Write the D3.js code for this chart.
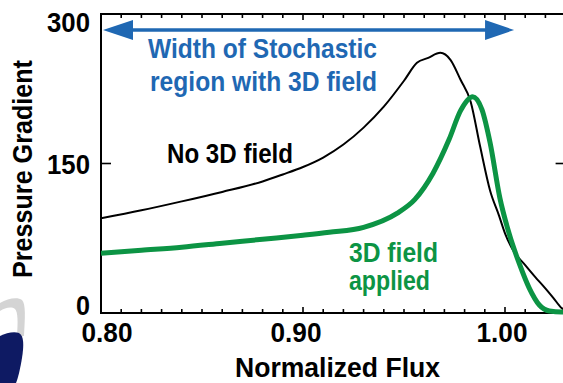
<!DOCTYPE html>
<html>
<head>
<meta charset="utf-8">
<script src="https://cdn.jsdelivr.net/npm/d3@7"></script>
<style>
html,body{margin:0;padding:0;background:#fff;overflow:hidden;}
svg{display:block;}
text{font-family:"Liberation Sans",Arial,Helvetica,sans-serif;font-weight:bold;}
</style>
</head>
<body>
<svg id="chart" width="563" height="383"></svg>
<script>
// ---- data ----
const noFieldFlux = [0.800,0.820,0.840,0.860,0.880,0.890,0.900,0.910,0.920,0.930,0.940,0.950,0.9564,0.962,0.968,0.973,0.978,0.983,0.9877,0.9926,0.997,1.000,1.004,1.010,1.015,1.019,1.024,1.028,1.031];
const noFieldGrad = [95,103,112,121.5,132,139,146.5,156,169,186,207,233,251,256,261,254,234,212,167,123,98,80,63,48,36,27,15,5,2];
const appliedFlux = [0.800,0.820,0.840,0.860,0.880,0.900,0.913,0.930,0.9465,0.9554,0.9643,0.9723,0.978,0.984,0.9886,0.9926,0.9975,1.002,1.007,1.012,1.017,1.022,1.028,1.031];
const appliedGrad = [60,63,66,70,74,78,81,86,100,114,140,174,203,217,204,171,115,80,50,25,8,2,1,1];
const xTickLabels = [0.80,0.90,1.00];
const yTickLabels = [0,150,300];
const stochasticRegion = [0.801,1.0045];

// ---- layout ----
const svg = d3.select("#chart");
const x = d3.scaleLinear().domain([0.80,1.03]).range([101,565.6]);
const y = d3.scaleLinear().domain([0,300]).range([313,14]);
const blue = "#1f68b3", green = "#0c9444";

const noField = noFieldFlux.map((f,i)=>({f, g:noFieldGrad[i]}));
const applied = appliedFlux.map((f,i)=>({f, g:appliedGrad[i]}));

// frame
const frame = svg.append("g").attr("stroke","#000").attr("stroke-width",2);
frame.append("line").attr("x1",x(0.80)).attr("x2",x(0.80)).attr("y1",y(300)-1).attr("y2",y(0)+1);
frame.append("line").attr("x1",x(0.80)-1).attr("x2",x(1.03)).attr("y1",y(0)).attr("y2",y(0));
frame.append("line").attr("x1",x(0.80)-1).attr("x2",x(1.03)).attr("y1",y(300)).attr("y2",y(300));
frame.append("line").attr("x1",x(1.03)).attr("x2",x(1.03)).attr("y1",y(300)).attr("y2",y(0));

// minor ticks every 0.01 on top and bottom
const minor = d3.range(0,24).map(i=>+(0.80+i*0.01).toFixed(2)).filter(v=>v>0.8);
const tk = svg.append("g").attr("stroke","#000").attr("stroke-width",1.6);
minor.forEach(v=>{
  const major = Math.abs(v*10-Math.round(v*10))<1e-6;
  const len = major?6:4;
  tk.append("line").attr("x1",x(v)).attr("x2",x(v)).attr("y1",y(0)).attr("y2",y(0)-len);
  tk.append("line").attr("x1",x(v)).attr("x2",x(v)).attr("y1",y(300)).attr("y2",y(300)+len);
});
// y ticks at 150 (inside, left and right)
tk.append("line").attr("x1",x(0.80)).attr("x2",x(0.80)+10).attr("y1",y(150)).attr("y2",y(150));
tk.append("line").attr("x1",x(1.03)).attr("x2",x(1.03)-10).attr("y1",y(150)).attr("y2",y(150));

// tick labels
const xDx = {"0.8":6,"0.9":-7,"1":-3};
svg.append("g").selectAll("text").data(xTickLabels).join("text")
  .attr("x",d=>x(d)+(xDx[String(d)]||0)).attr("y",342)
  .attr("text-anchor","middle").attr("font-size",28)
  .attr("textLength",51).attr("lengthAdjust","spacingAndGlyphs")
  .text(d=>d.toFixed(2));
const yDy = {"0":2,"150":10,"300":18};
svg.append("g").selectAll("text").data(yTickLabels).join("text")
  .attr("x",90).attr("y",d=>y(d)+(yDy[String(d)]||0))
  .attr("text-anchor","end").attr("font-size",28)
  .attr("textLength",d=>d===0?14:43).attr("lengthAdjust","spacingAndGlyphs")
  .text(d=>String(d));

// axis titles
svg.append("text").attr("x",235).attr("y",377).attr("font-size",28)
  .attr("textLength",205).attr("lengthAdjust","spacingAndGlyphs").text("Normalized Flux");
svg.append("text").attr("transform","translate(32,278) rotate(-90)").attr("font-size",28)
  .attr("textLength",218).attr("lengthAdjust","spacingAndGlyphs").text("Pressure Gradient");

// curves
const line = d3.line().x(d=>x(d.f)).y(d=>y(d.g)).curve(d3.curveMonotoneX);
svg.append("clipPath").attr("id","plotclip").append("rect")
  .attr("x",x(0.80)).attr("y",y(300)).attr("width",x(1.03)-x(0.80)).attr("height",y(0)-y(300)+3);
svg.append("path").datum(noField).attr("d",line).attr("fill","none")
  .attr("stroke","#000").attr("stroke-width",2).attr("clip-path","url(#plotclip)");
svg.append("path").datum(applied).attr("d",line).attr("fill","none")
  .attr("stroke",green).attr("stroke-width",5).attr("stroke-linejoin","round").attr("clip-path","url(#plotclip)");

// arrow
const ax0 = x(stochasticRegion[0]), ax1 = x(stochasticRegion[1]), ay = 30;
svg.append("line").attr("x1",ax0+20).attr("x2",ax1-20).attr("y1",ay).attr("y2",ay)
  .attr("stroke",blue).attr("stroke-width",3.5);
svg.append("path").attr("fill",blue)
  .attr("d",`M${ax0},${ay} L${ax0+30},${ay-10} L${ax0+30},${ay+10} Z`);
svg.append("path").attr("fill",blue)
  .attr("d",`M${ax1},${ay} L${ax1-29},${ay-10} L${ax1-29},${ay+10} Z`);

// annotations
svg.append("text").attr("x",148).attr("y",58).attr("font-size",27).attr("fill",blue)
  .attr("textLength",229).attr("lengthAdjust","spacingAndGlyphs").text("Width of Stochastic");
svg.append("text").attr("x",150).attr("y",91).attr("font-size",27).attr("fill",blue)
  .attr("textLength",227).attr("lengthAdjust","spacingAndGlyphs").text("region with 3D field");
svg.append("text").attr("x",167).attr("y",163).attr("font-size",28).attr("fill","#000")
  .attr("textLength",126).attr("lengthAdjust","spacingAndGlyphs").text("No 3D field");
svg.append("text").attr("x",349).attr("y",262).attr("font-size",28).attr("fill",green)
  .attr("textLength",89).attr("lengthAdjust","spacingAndGlyphs").text("3D field");
svg.append("text").attr("x",349).attr("y",290).attr("font-size",28).attr("fill",green)
  .attr("textLength",81).attr("lengthAdjust","spacingAndGlyphs").text("applied");

// logo fragment (bottom-left)
svg.append("path").attr("fill","#d4d4d4")
  .attr("d","M0,303 C8,298 18,297 22,300 C26,304 25,318 24,336 L17,336 C18,322 18,312 15,309 C11,306 5,308 0,311 Z");
svg.append("path").attr("fill","#0e1a63")
  .attr("d","M0,336 C6,333 14,331 19,333 C24,336 24,345 22,358 C20,370 18,378 16,383 L0,383 Z");
</script>
</body>
</html>
